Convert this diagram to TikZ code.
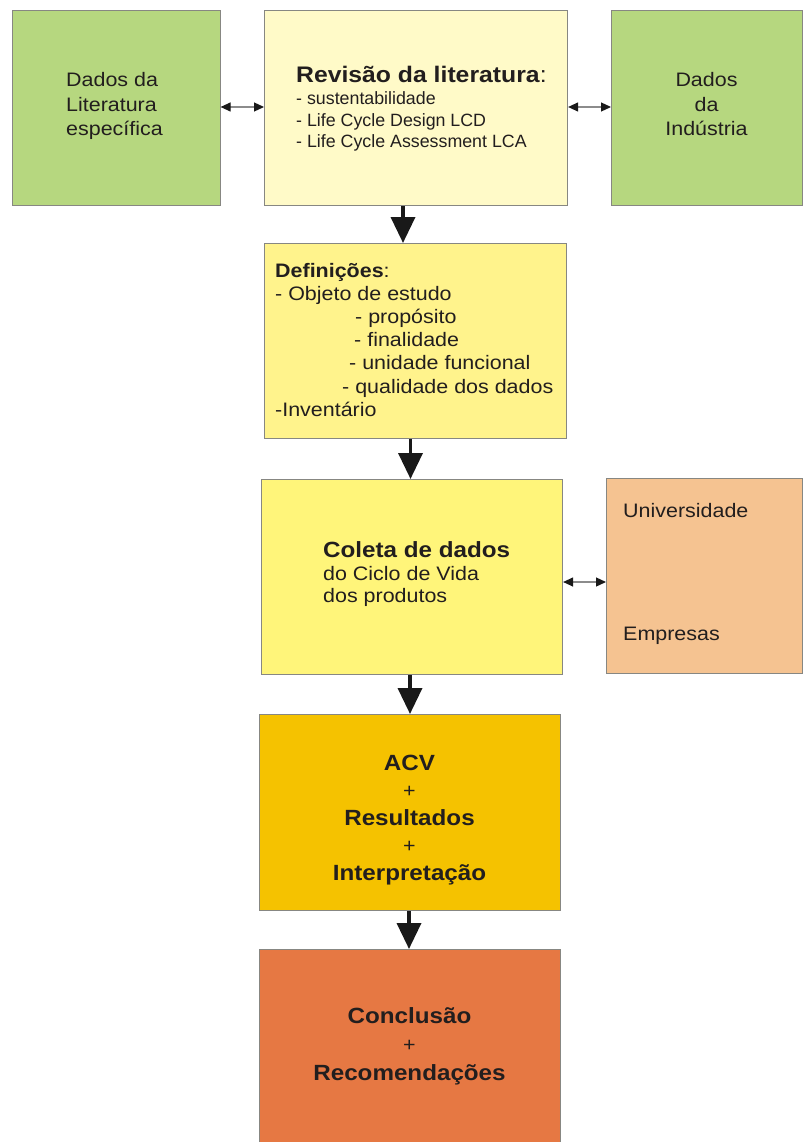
\documentclass[tikz,border=0pt]{standalone}
\usepackage{fontspec}
\setmainfont[FakeStretch=1.1]{Liberation Sans}
\newfontfamily\plainsans{Liberation Sans}
\usetikzlibrary{arrows.meta}
\definecolor{litgreen}{RGB}{182,215,127}
\definecolor{revyellow}{RGB}{255,250,200}
\definecolor{defyellow}{RGB}{255,243,140}
\definecolor{colyellow}{RGB}{255,245,122}
\definecolor{acvgold}{RGB}{245,194,0}
\definecolor{conorange}{RGB}{230,120,67}
\definecolor{unipeach}{RGB}{245,195,145}
\definecolor{bordergray}{RGB}{135,135,130}
\definecolor{txt}{RGB}{34,30,30}
\newcommand{\LinesL}[2]{\vtop{\baselineskip=#1\lineskiplimit=-100pt\lineskip=0pt\halign{##\hfil\cr#2\crcr}}}
\newcommand{\LinesC}[2]{\vtop{\baselineskip=#1\lineskiplimit=-100pt\lineskip=0pt\halign{\hfil##\hfil\cr#2\crcr}}}
\newcommand{\normsz}{\fontsize{19.5}{23}\selectfont}
\newcommand{\boldsz}{\fontsize{22}{26}\selectfont\bfseries}
\begin{document}
\begin{tikzpicture}[x=1pt,y=-1pt,
  box/.style={draw=bordergray,line width=1.1pt,inner sep=0pt,anchor=north west},
  txtl/.style={inner sep=0pt,anchor=base west,text=txt},
  txtc/.style={inner sep=0pt,anchor=base,text=txt},
  down/.style={line width=3.6pt,draw=black!90,-{Triangle[width=24pt,length=26pt]}},
  both/.style={line width=1.2pt,draw=black!45,{Triangle[width=9pt,length=10pt,color=black!90]}-{Triangle[width=9pt,length=10pt,color=black!90]}}]
\useasboundingbox (0,0) rectangle (803,1142);
% boxes
\node[box,fill=litgreen,minimum width=208pt,minimum height=195pt] (lit) at (11.5,10) {};
\node[box,fill=revyellow,minimum width=303pt,minimum height=195pt] (rev) at (264,10) {};
\node[box,fill=litgreen,minimum width=191pt,minimum height=195pt] (ind) at (611,10) {};
\node[box,fill=defyellow,minimum width=302pt,minimum height=195pt] (def) at (264,243) {};
\node[box,fill=colyellow,minimum width=301pt,minimum height=195pt] (col) at (261,479) {};
\node[box,fill=unipeach,minimum width=196pt,minimum height=195pt] (uni) at (606,478) {};
\node[box,fill=acvgold,minimum width=301pt,minimum height=196pt] (acv) at (259,714) {};
\node[box,fill=conorange,minimum width=301pt,minimum height=194pt] (con) at (259,949) {};
% texts
\node[txtl] (litT) at (66,87) {\normsz\LinesL{24.5pt}{Dados da\cr Literatura\cr específica}};
\node[txtc] (indT) at (706.5,87) {\normsz\LinesC{24.5pt}{Dados\cr da\cr Indústria}};
\node[txtl] (revT) at (296,83) {\fontsize{22.5}{26}\selectfont\textbf{Revisão da literatura}:};
\node[txtl] (revL) at (296,105) {\plainsans\fontsize{17.8}{21}\selectfont\LinesL{21.5pt}{- sustentabilidade\cr - Life Cycle Design LCD\cr - Life Cycle Assessment LCA}};
\node[txtl] (defT) at (275,277) {\normsz\LinesL{23.2pt}{\textbf{Definições}:\cr
 - Objeto de estudo\cr
 \hskip80pt - propósito\cr
 \hskip79pt - finalidade\cr
 \hskip74pt - unidade funcional\cr
 \hskip67pt - qualidade dos dados\cr
 -Inventário}};
\node[txtl] (colT) at (323,557) {\boldsz Coleta de dados};
\node[txtl] (colL) at (323,580) {\normsz\LinesL{22pt}{do Ciclo de Vida\cr dos produtos}};
\node[txtl] (uniT) at (623,517) {\normsz Universidade};
\node[txtl] (empT) at (623,640) {\normsz Empresas};
\node[txtc] (acvT) at (409.5,770) {\LinesC{27.5pt}{\boldsz ACV\cr \normsz +\cr \boldsz Resultados\cr \normsz +\cr \boldsz Interpretação}};
\node[txtc] (conT) at (409.5,1023) {\LinesC{28.5pt}{\boldsz Conclusão\cr \normsz +\cr \boldsz Recomendações}};
% arrow positions
\coordinate (x1) at (403,0);
\coordinate (x2) at (410.5,0);
\coordinate (x3) at (410,0);
\coordinate (x4) at (409,0);
\coordinate (y1) at (0,107);
\coordinate (y2) at (0,582);
% connectors
\draw[down] (rev.south -| x1) -- (def.north -| x1);
\draw[down] (def.south -| x2) -- (col.north -| x2);
\draw[down] (col.south -| x3) -- (acv.north -| x3);
\draw[down] (acv.south -| x4) -- (con.north -| x4);
\draw[both] (lit.east |- y1) -- (rev.west |- y1);
\draw[both] (rev.east |- y1) -- (ind.west |- y1);
\draw[both] (col.east |- y2) -- (uni.west |- y2);
\end{tikzpicture}
\end{document}
